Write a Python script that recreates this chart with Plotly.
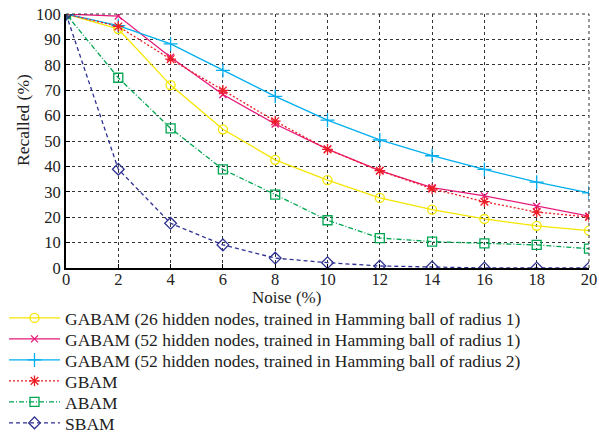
import plotly.graph_objects as go

noise = [0, 2, 4, 6, 8, 10, 12, 14, 16, 18, 20]
gabam26_r1 = [100, 94.1, 72.0, 54.6, 42.6, 34.6, 27.6, 23.0, 19.3, 16.6, 14.7]
gabam52_r1 = [100, 99.2, 83.0, 68.3, 56.7, 46.8, 38.3, 31.6, 28.4, 24.3, 20.4]
gabam52_r2 = [100, 95.4, 88.2, 77.8, 67.6, 58.2, 50.4, 44.2, 38.8, 33.8, 29.6]
gbam = [100, 95.1, 82.2, 69.9, 57.8, 46.7, 38.3, 31.2, 26.1, 22.0, 20.1]
abam = [100, 74.9, 55.0, 38.8, 28.9, 18.8, 11.8, 10.4, 9.7, 9.1, 7.6]
sbam = [100, 38.9, 17.6, 9.1, 3.9, 2.1, 0.8, 0.4, 0.0, 0.0, 0.0]
yticks = list(range(0, 101, 10))

names = [
    "GABAM (26 hidden nodes, trained in Hamming ball of radius 1)",
    "GABAM (52 hidden nodes, trained in Hamming ball of radius 1)",
    "GABAM (52 hidden nodes, trained in Hamming ball of radius 2)",
    "GBAM",
    "ABAM",
    "SBAM",
]
series = [gabam26_r1, gabam52_r1, gabam52_r2, gbam, abam, sbam]
colors = ["#f5e600", "#e6197a", "#00aeef", "#ee1c24", "#00a651", "#2e3192"]
dashes = ["solid", "solid", "solid", "2px,2px", "5px,2px,1px,2px", "4px,3px"]
symbols = ["circle-open", "x-thin-open", "cross-thin-open", "asterisk-open", "square-open", "diamond-open"]
sizes = [9, 7, 10, 9, 9, 9]

W, H = 599, 435
ML, MR, MT, MB = 66, 10, 14, 167
legend_centers_px = [318, 339, 360, 381, 402, 423]
font = "Liberation Serif"

fig = go.Figure()
legend_layouts = {}
for i, (n, s, c, d, sym, sz) in enumerate(zip(names, series, colors, dashes, symbols, sizes)):
    key = "legend" if i == 0 else f"legend{i+1}"
    fig.add_trace(go.Scatter(
        x=noise, y=s, name=n, mode="lines+markers", legend=key,
        line=dict(color=c, width=1.3, dash=d),
        marker=dict(symbol=sym, size=sz, color=c, line=dict(color=c, width=1.3)),
    ))
    legend_layouts[key] = dict(
        xref="container", yref="container",
        x=4 / W, y=1 - legend_centers_px[i] / H, xanchor="left", yanchor="middle",
        font=dict(family=font, size=17.5, color="#222"),
        bgcolor="rgba(0,0,0,0)", itemwidth=51,
    )

pw, ph = W - ML - MR, H - MT - MB
fig.update_layout(
    width=W, height=H,
    margin=dict(l=ML, r=MR, t=MT, b=MB, autoexpand=False),
    plot_bgcolor="white", paper_bgcolor="white",
    font=dict(family=font, size=16, color="#222"),
    showlegend=True,
    **legend_layouts,
    annotations=[
        dict(text="Noise (%)", xref="paper", yref="paper",
             x=(286 - ML) / pw, y=-(297 - MT - ph) / ph,
             xanchor="center", yanchor="middle", showarrow=False,
             font=dict(family=font, size=17, color="#222")),
        dict(text="Recalled (%)", xref="paper", yref="paper",
             x=-(ML - 23) / pw, y=(H - MB - 120) / ph,
             xanchor="center", yanchor="middle", showarrow=False, textangle=-90,
             font=dict(family=font, size=17.5, color="#222")),
    ],
)
fig.update_xaxes(
    range=[0, 20], tickvals=noise, ticktext=[str(v) for v in noise],
    showgrid=True, gridcolor="#333", griddash="dot", gridwidth=1,
    showline=True, linecolor="black", linewidth=2,
    ticks="inside", ticklen=4, tickcolor="black",
    zeroline=False, automargin=False, ticklabelstandoff=-5,
    tickfont=dict(family=font, size=16.5, color="#222"),
)
fig.update_yaxes(
    range=[0, 100], tickvals=yticks, ticktext=[str(v) for v in yticks],
    showgrid=True, gridcolor="#333", griddash="dot", gridwidth=1,
    showline=True, linecolor="black", linewidth=2,
    ticks="inside", ticklen=4, tickcolor="black",
    zeroline=False, automargin=False,
    tickfont=dict(family=font, size=16.5, color="#222"),
)
fig.add_shape(type="line", xref="paper", yref="paper", x0=1, x1=1, y0=0, y1=1,
              line=dict(color="#333", width=1, dash="dot"))
fig.add_shape(type="line", xref="paper", yref="paper", x0=0, x1=1, y0=1, y1=1,
              line=dict(color="#333", width=1, dash="dot"))

fig.write_html("out.html", config={"displayModeBar": False},
               post_script="document.body.style.margin='0';")
